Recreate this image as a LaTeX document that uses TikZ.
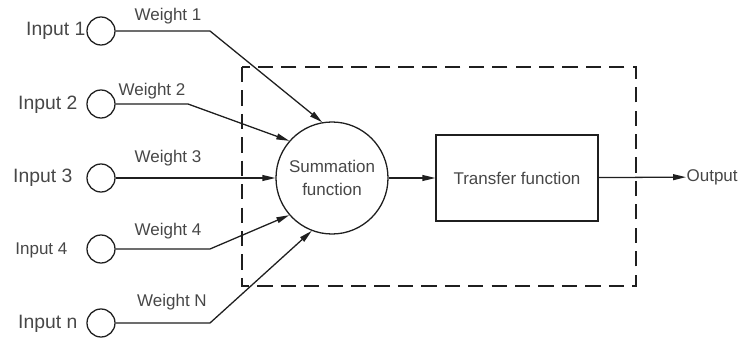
\documentclass[tikz,border=0pt]{standalone}
\usepackage{fontspec}
\setmainfont{Liberation Sans}
\usetikzlibrary{arrows.meta}
\definecolor{inkgray}{gray}{0.12}
\definecolor{txtgray}{gray}{0.28}

\begin{document}
\begin{tikzpicture}[x=0.03cm,y=-0.03cm, line width=1.1pt, color=inkgray,
  arr/.style={-{Triangle[length=11pt,width=5pt]}},
  inp/.style={circle,draw,minimum size=0.84cm,inner sep=0pt},
  lbl/.style={text=txtgray,inner sep=0pt,font=\fontsize{14.5}{19.5}\selectfont},
  inlbl/.style={lbl,anchor=east,font=\fontsize{16.5}{19}\selectfont},
  frame/.style={dash pattern=on 13pt off 7pt}]
\useasboundingbox (0,0) rectangle (742,338);
\draw[frame] (242,67) rectangle (636,286);
\node[inp] (in1) at (101,31) {};
\node[inp] (in2) at (101,104) {};
\node[inp] (in3) at (101,178) {};
\node[inp] (in4) at (101,249) {};
\node[inp] (in5) at (101,323) {};
\node[inlbl] (l1) at (86,31) {Input 1};
\node[inlbl] (l2) at (78,105) {Input 2};
\node[inlbl] (l3) at (73,178) {Input 3};
\node[inlbl,font=\fontsize{14.5}{17}\selectfont] (l4) at (68,250) {Input 4};
\node[inlbl] (l5) at (78,324) {Input n};
\node[lbl] (w1) at (168,16) {Weight 1};
\node[lbl] (w2) at (152,91) {Weight 2};
\node[lbl] (w3) at (168,158) {Weight 3};
\node[lbl] (w4) at (168,231) {Weight 4};
\node[lbl] (wn) at (172,302) {Weight N};
\node[lbl,circle,draw,minimum size=3.36cm,align=center] (sum) at (332,178) {Summation\\function};
\node[lbl,draw,minimum width=4.86cm,minimum height=2.58cm] (tf) at (517,178) {Transfer function};
\node[lbl,anchor=west] (out) at (686,177) {Output};
\coordinate (b1) at (210,31);
\coordinate (b2) at (188,104);
\coordinate (b4) at (210,249);
\coordinate (b5) at (210,323);
\draw[arr] (in1) -- (b1) -- (sum.100);
\draw[arr] (in2) -- (b2) -- (sum.139);
\draw[arr] (in3) -- (sum);
\draw[arr] (in4) -- (b4) -- (sum.221);
\draw[arr] (in5) -- (b5) -- (sum.249);
\draw[arr] (sum) -- (tf);
\draw[arr] (tf) -- (out);
\end{tikzpicture}
\end{document}
